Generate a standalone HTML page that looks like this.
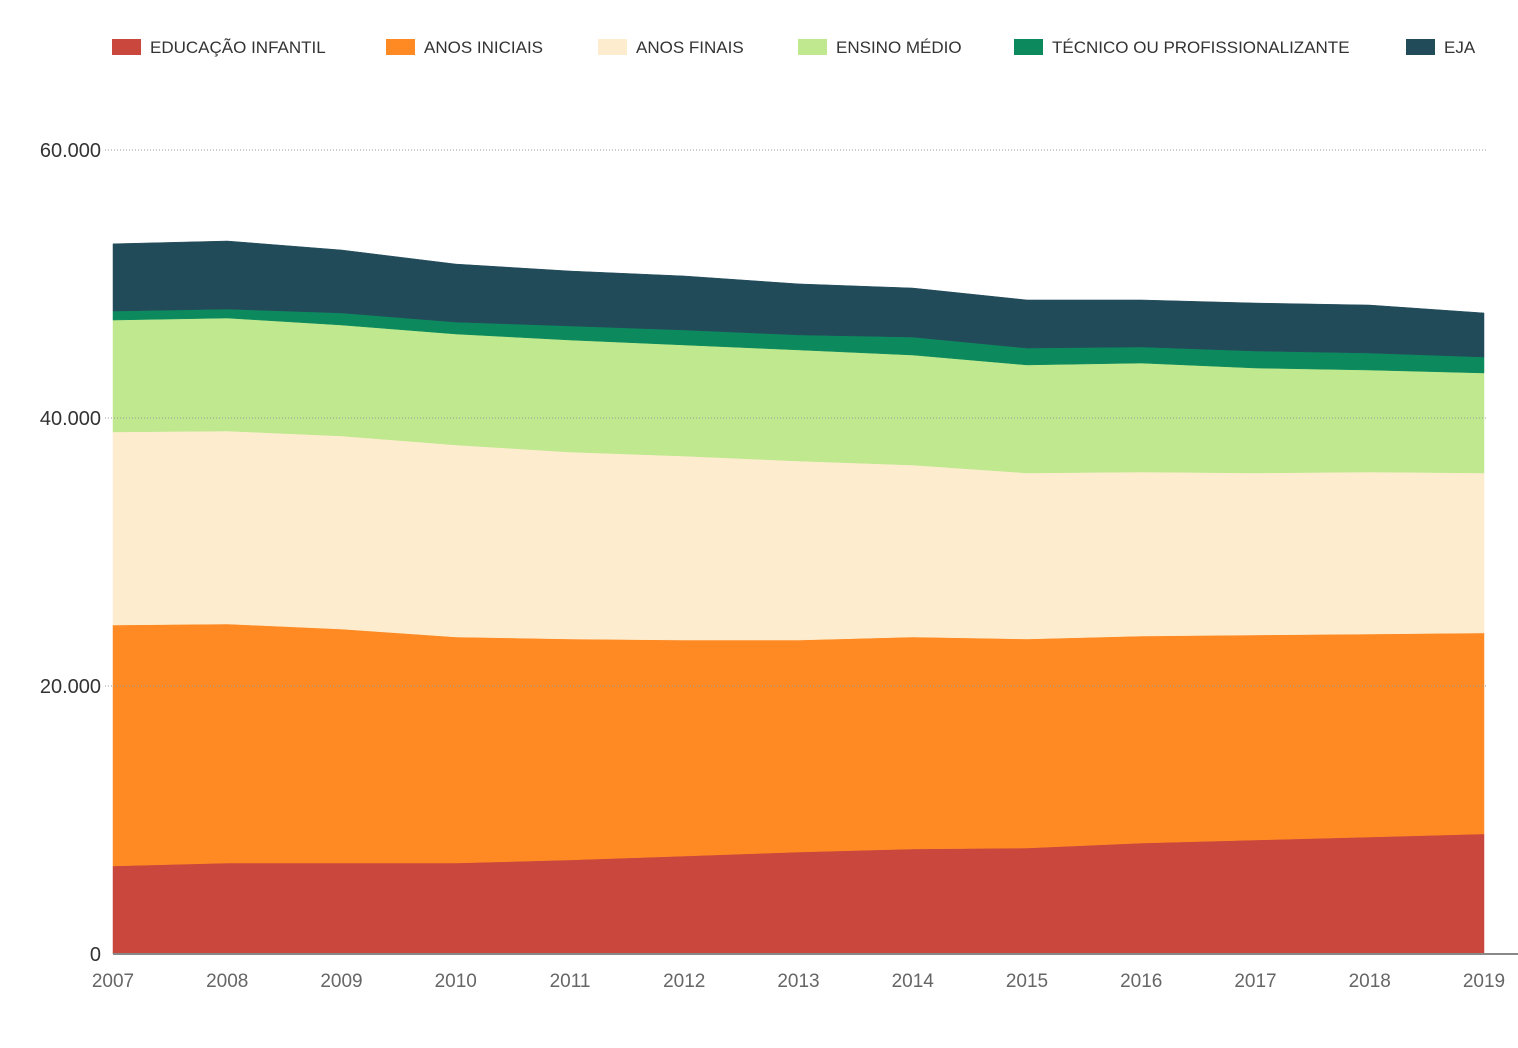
<!DOCTYPE html>
<html><head><meta charset="utf-8"><style>
html,body{margin:0;padding:0;background:#fff;}
svg text{font-family:"Liberation Sans",sans-serif;}
</style></head><body>
<svg id="chart" width="1518" height="1043" xmlns="http://www.w3.org/2000/svg">
<g id="legend"></g>
<g id="areas"></g>
<g id="grid"></g>
<g id="axes"></g>
</svg>
<script>
const years = [2007,2008,2009,2010,2011,2012,2013,2014,2015,2016,2017,2018,2019];
const seriesNames = ["EDUCAÇÃO INFANTIL","ANOS INICIAIS","ANOS FINAIS","ENSINO MÉDIO","TÉCNICO OU PROFISSIONALIZANTE","EJA"];
const educacaoInfantil = [6570,6790,6790,6790,7020,7310,7610,7840,7910,8280,8510,8730,8960];
const anosIniciais = [17980,17840,17460,16870,16490,16120,15820,15820,15600,15450,15300,15150,15000];
const anosFinais = [14410,14400,14410,14330,13950,13730,13360,12830,12390,12240,12090,12090,11940];
const ensinoMedio = [8350,8430,8280,8280,8360,8290,8290,8210,8060,8130,7830,7610,7460];
const tecnico = [670,670,900,890,1050,1120,1120,1340,1260,1200,1270,1270,1190];
const eja = [5020,5080,4700,4330,4100,4030,3810,3660,3590,3510,3580,3580,3290];
const yTicks = [0,20000,40000,60000];
const yTickLabels = ["0","20.000","40.000","60.000"];

const colors = ["#c9473d","#ff8a24","#fdedce","#bfe88f","#0c8a5d","#224b5a"];
const NS="http://www.w3.org/2000/svg";
const x0=113,x1=1484,yBase=954,yTop=150;
const xs = i => x0 + (x1-x0)*i/(years.length-1);
const ys = v => yBase - (yBase-yTop)*v/60000;
function mk(tag,attrs,parent){const e=document.createElementNS(NS,tag);for(const k in attrs)e.setAttribute(k,attrs[k]);parent.appendChild(e);return e;}

const grid=document.getElementById('grid');
yTicks.forEach((t,i)=>{
  if(t>0){const l=mk('line',{x1:105,x2:1486,y1:ys(t),y2:ys(t),stroke:'#999','stroke-width':1,'stroke-dasharray':'1,2'},grid);
  
  }
  const tx=mk('text',{x:101,y:ys(t)+7,'text-anchor':'end','font-size':20,fill:'#333'},grid);
  tx.textContent=yTickLabels[i];
  
  
});

const series=[educacaoInfantil,anosIniciais,anosFinais,ensinoMedio,tecnico,eja];
const areas=document.getElementById('areas');
let lower=years.map(()=>0);
series.forEach((s,si)=>{
  const upper=lower.map((v,i)=>v+s[i]);
  let d='M'+upper.map((v,i)=>xs(i)+','+ys(v)).join(' L');
  for(let i=years.length-1;i>=0;i--) d+=' L'+xs(i)+','+ys(lower[i]);
  d+=' Z';
  const p=mk('path',{d:d,fill:colors[si],stroke:colors[si],'stroke-width':0.5},areas);
  
  
  lower=upper;
});

const axes=document.getElementById('axes');
const base=mk('line',{x1:113,x2:1518,y1:954,y2:954,stroke:'#888','stroke-width':2},axes);


years.forEach((y,i)=>{
  const t=mk('text',{x:xs(i),y:987,'text-anchor':'middle','font-size':19,fill:'#666'},axes);
  t.textContent=y;
  
  
});

const legend=document.getElementById('legend');
const lx=[112,386,598,798,1014,1406];
seriesNames.forEach((n,i)=>{
  const r=mk('rect',{x:lx[i],y:39,width:29,height:16,fill:colors[i]},legend);
  
  
  const t=mk('text',{x:lx[i]+38,y:53,'font-size':17,fill:'#333'},legend);
  t.textContent=n;
  
  
});
</script>
</body></html>
